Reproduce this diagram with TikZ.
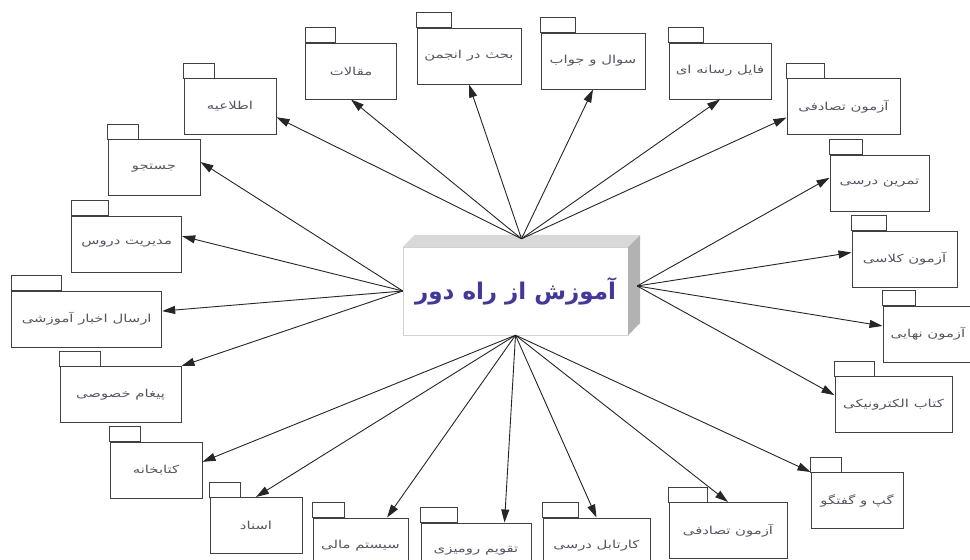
\documentclass[tikz,border=0pt]{standalone}
\usepackage{fontspec}
\newfontfamily\fa[Script=Arabic]{DejaVu Sans}
\newfontfamily\falabel[Script=Arabic, FakeStretch=1.35]{DejaVu Sans}
\usetikzlibrary{arrows.meta}
\TeXXeTstate=1
\definecolor{labelgray}{RGB}{85,85,100}
\definecolor{hubblue}{RGB}{65,55,160}

\begin{document}
\begin{tikzpicture}[x=1pt, y=-1pt, >={Triangle[length=13pt,width=8pt]},
  pkg/.style={draw=black!75, line width=1pt, fill=white, minimum height=56, inner sep=2pt,
    text=labelgray, font=\falabel\fontsize{11}{12}\selectfont},
  tab/.style={draw=black!75, line width=1pt},
  link/.style={->, line width=0.9pt, black!85}]
			\useasboundingbox (0,0) rectangle (970,560);
			\fill[white] (0,0) rectangle (970,560);
			\clip (0,0) rectangle (970,560);
			% center box
			\node[draw=gray!35, fill=white, minimum width=225, minimum height=88, text=hubblue,
			  font=\fa\bfseries\fontsize{23}{26}\selectfont] (hub) at (515.5,291) {\beginR آموزش از راه دور\endR};
			\fill[gray!30] (hub.north west) -- ++(12,-12) -- ++(225,0) -- (hub.north east) -- cycle;
			\fill[gray!60] (hub.north east) -- ++(12,-12) -- ++(0,88) -- (hub.south east) -- cycle;
			\coordinate (hubN) at ([xshift=6pt,yshift=8pt]hub.north);
			\coordinate (hubE) at ([xshift=9pt,yshift=5pt]hub.east);
			\coordinate (hubS) at (hub.south);
			\coordinate (hubW) at (hub.west);
			% packages
			\node[pkg, minimum width=92] (etelaie) at (230,106.5) {\beginR اطلاعیه\endR};
			\node[pkg, minimum width=91] (maqalat) at (351,71) {\beginR مقالات\endR};
			\node[pkg, minimum width=104] (bahs) at (469,56) {\beginR بحث در انجمن\endR};
			\node[pkg, minimum width=104] (porsesh) at (593,61) {\beginR سوال و جواب\endR};
			\node[pkg, minimum width=102] (resane) at (720,71) {\beginR فایل رسانه ای\endR};
			\node[pkg, minimum width=113] (tasadofi) at (843.5,106.5) {\beginR آزمون تصادفی\endR};
			\node[pkg, minimum width=99] (tamrin) at (879.5,183) {\beginR تمرین درسی\endR};
			\node[pkg, minimum width=105] (kelasi) at (904.5,259) {\beginR آزمون کلاسی\endR};
			\node[pkg, minimum width=90] (nahaie) at (928,334) {\beginR آزمون نهایی\endR};
			\node[pkg, minimum width=117] (ketab) at (893.5,404.5) {\beginR کتاب الکترونیکی\endR};
			\node[pkg, minimum width=92] (gap) at (857,500.5) {\beginR گپ و گفتگو\endR};
			\node[pkg, minimum width=118] (tasadofiB) at (728,530.5) {\beginR آزمون تصادفی\endR};
			\node[pkg, minimum width=107] (kartabl) at (596.5,546) {\beginR کارتابل درسی\endR};
			\node[pkg, minimum width=110] (taqvim) at (476,551) {\beginR تقویم رومیزی\endR};
			\node[pkg, minimum width=95] (mali) at (360.5,546) {\beginR سیستم مالی\endR};
			\node[pkg, minimum width=92] (asnad) at (256,525.5) {\beginR اسناد\endR};
			\node[pkg, minimum width=92] (ketabkhane) at (156,470) {\beginR کتابخانه\endR};
			\node[pkg, minimum width=121] (peygham) at (120.5,394.5) {\beginR پیغام خصوصی\endR};
			\node[pkg, minimum width=150] (akhbar) at (86.7,319) {\beginR ارسال اخبار آموزشی\endR};
			\node[pkg, minimum width=110] (doros) at (126.7,244) {\beginR مدیریت دروس\endR};
			\node[pkg, minimum width=92] (jostoju) at (154,167.7) {\beginR جستجو\endR};
			% tabs on the packages
			\foreach \n/\w in {etelaie/31, maqalat/30, bahs/35, porsesh/35, resane/35, tasadofi/38,
			  tamrin/33, kelasi/35, nahaie/33, ketab/40, gap/31, tasadofiB/39, kartabl/36, taqvim/37,
			  mali/32, asnad/31, ketabkhane/31, peygham/41, akhbar/50, doros/37, jostoju/31}
			  \draw[tab] (\n.north west) rectangle ++(\w,-15);
			% links
			\draw[link] (hubN) -- (etelaie.-13);
			\draw[link] (hubN) -- (maqalat.south);
			\draw[link] (hubN) -- (bahs.south);
			\draw[link] (hubN) -- (porsesh.south);
			\draw[link] (hubN) -- (resane.south);
			\draw[link] (hubN) -- (tasadofi.191);
			\draw[link] (hubE) -- (tamrin.174);
			\draw[link] (hubE) -- (kelasi.173);
			\draw[link] (hubE) -- (nahaie.170);
			\draw[link] (hubE) -- (ketab.171);
			\draw[link] (hubS) -- (gap.north west);
			\draw[link] (hubS) -- (tasadofiB.north);
			\draw[link] (hubS) -- (kartabl.north);
			\draw[link] (hubS) -- (taqvim.45);
			\draw[link] (hubS) -- (mali.47);
			\draw[link] (hubS) -- (asnad.north);
			\draw[link] (hubS) -- (ketabkhane.10);
			\draw[link] (hubW) -- (peygham.north east);
			\draw[link] (hubW) -- (akhbar.6);
			\draw[link] (hubW) -- (doros.8);
			\draw[link] (hubW) -- (jostoju.7);
		\end{tikzpicture}
\end{document}
